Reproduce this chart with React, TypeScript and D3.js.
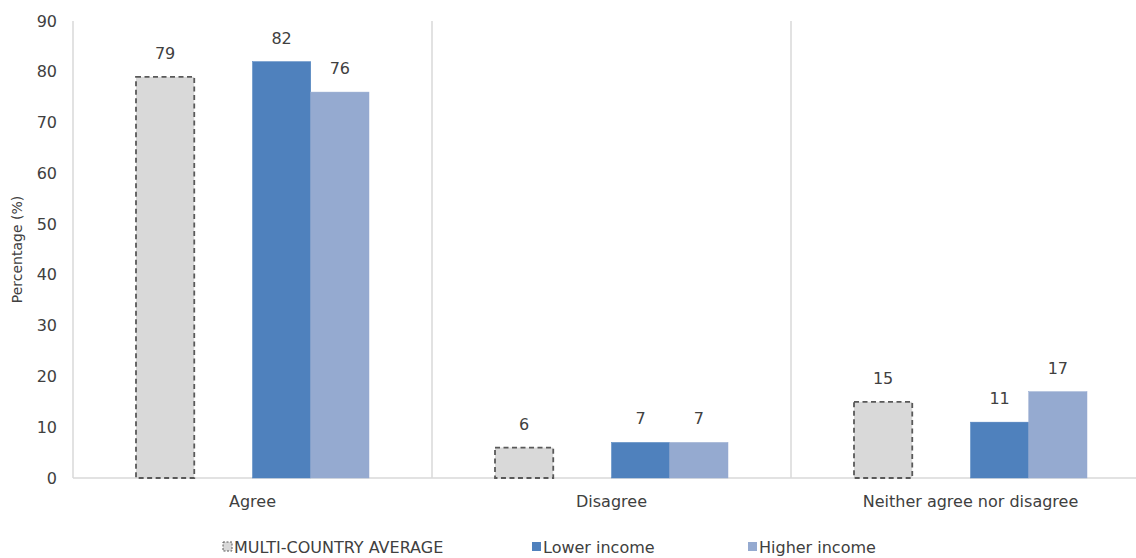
import React from "react";
import * as d3 from "d3";

const categories = ["Agree", "Disagree", "Neither agree nor disagree"];
const multiCountryAverage = [79, 6, 15];
const lowerIncome = [82, 7, 11];
const higherIncome = [76, 7, 17];
const yTicks = [0, 10, 20, 30, 40, 50, 60, 70, 80, 90];
const legendLabels = ["MULTI-COUNTRY AVERAGE", "Lower income", "Higher income"];

const W = 1136;
const H = 558;
const FONT = "'DejaVu Sans', sans-serif";
const TXT = "#404040";

export default function App() {
  const left = 73;
  const right = 1150;
  const top = 21;
  const bottom = 478;

  const x0 = d3.scaleBand<string>().domain(categories).range([left, right]).padding(0);
  const bw = x0.bandwidth();
  const gap = bw * 0.1755;
  const slots = ["avg", "blank", "low", "high"];
  const x1 = d3.scaleBand<string>().domain(slots).range([gap, bw - gap]).padding(0);
  const y = d3.scaleLinear().domain([0, 90]).range([bottom, top]);

  const series = [
    { key: "avg", values: multiCountryAverage, fill: "#D9D9D9", dashed: true },
    { key: "low", values: lowerIncome, fill: "#4F81BD", dashed: false },
    { key: "high", values: higherIncome, fill: "#95AAD0", dashed: false },
  ];

  const legendItems = [
    { label: legendLabels[0], x: 223, fill: "#D9D9D9", dashed: true },
    { label: legendLabels[1], x: 532, fill: "#4F81BD", dashed: false },
    { label: legendLabels[2], x: 748, fill: "#95AAD0", dashed: false },
  ];

  return (
    <svg
      width={W}
      height={H}
      style={{ position: "absolute", left: 0, top: 0, background: "#fff" }}
      fontFamily={FONT}
    >
      <line x1={left} x2={left} y1={top} y2={bottom} stroke="#D9D9D9" strokeWidth={1.5} />
      {categories.slice(1).map((c) => (
        <line key={c} x1={x0(c)!} x2={x0(c)!} y1={top} y2={bottom} stroke="#D9D9D9" strokeWidth={1.5} />
      ))}
      <line x1={left} x2={right} y1={bottom} y2={bottom} stroke="#D9D9D9" strokeWidth={1.5} />

      {yTicks.map((t) => (
        <text key={t} x={57} y={y(t)} dy="0.35em" textAnchor="end" fontSize={16} fill={TXT}>
          {t}
        </text>
      ))}
      <text
        transform={`translate(22,${(top + bottom) / 2}) rotate(-90)`}
        textAnchor="middle"
        fontSize={14}
        fill={TXT}
      >
        Percentage (%)
      </text>

      {categories.map((c, i) => (
        <g key={c} transform={`translate(${x0(c)},0)`}>
          {series.map((s) => {
            const v = s.values[i];
            const bx = x1(s.key)!;
            const w = x1.bandwidth();
            return (
              <g key={s.key}>
                <rect
                  x={bx}
                  y={y(v)}
                  width={w}
                  height={y(0) - y(v)}
                  fill={s.fill}
                  stroke={s.dashed ? "#595959" : s.fill}
                  strokeWidth={s.dashed ? 1.8 : 0.5}
                  strokeDasharray={s.dashed ? "5,3.5" : undefined}
                />
                <text x={bx + w / 2} y={y(v) - 18} textAnchor="middle" fontSize={16} fill={TXT}>
                  {v}
                </text>
              </g>
            );
          })}
          <text x={bw / 2} y={507} textAnchor="middle" fontSize={16} fill={TXT}>
            {c}
          </text>
        </g>
      ))}

      {legendItems.map((l) => (
        <g key={l.label}>
          <rect
            x={l.x}
            y={542}
            width={9}
            height={9}
            fill={l.fill}
            stroke={l.dashed ? "#595959" : "none"}
            strokeWidth={l.dashed ? 1 : 0}
            strokeDasharray={l.dashed ? "2,1.5" : undefined}
          />
          <text x={l.x + 11} y={553} fontSize={16} fill={TXT}>
            {l.label}
          </text>
        </g>
      ))}
    </svg>
  );
}
